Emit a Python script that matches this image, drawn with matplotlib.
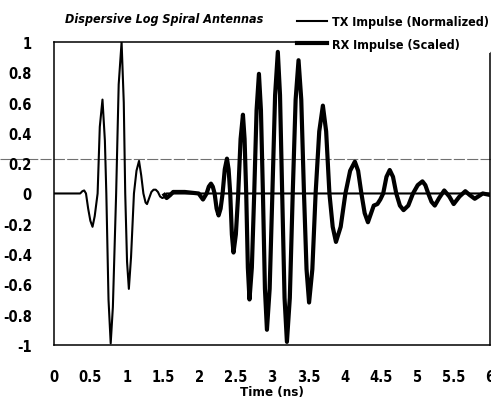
import matplotlib
matplotlib.use("Agg")
import matplotlib.pyplot as plt

# TX impulse (normalized)
tx_t = [0.0, 0.36, 0.39, 0.415, 0.44, 0.47, 0.50, 0.53, 0.56, 0.60, 0.63, 0.667,
        0.70, 0.72, 0.75, 0.78, 0.81, 0.855, 0.89, 0.93, 0.96, 0.98, 1.005, 1.03,
        1.06, 1.10, 1.135, 1.17, 1.20, 1.23, 1.26, 1.28, 1.31, 1.34, 1.37, 1.40,
        1.43, 1.46, 1.49, 1.52, 1.55, 6.0]
tx_v = [0.0, 0.0, 0.015, 0.02, 0.0, -0.1, -0.18, -0.22, -0.15, 0.0, 0.44, 0.62,
        0.35, 0.0, -0.7, -0.99, -0.75, 0.0, 0.72, 1.0, 0.6, 0.0, -0.45, -0.63,
        -0.42, 0.0, 0.15, 0.215, 0.12, 0.0, -0.06, -0.07, -0.03, 0.01, 0.025, 0.025,
        0.01, -0.02, -0.03, -0.025, 0.0, 0.0]

# RX impulse (scaled), one row per half cycle
rx_t = [1.52, 1.55, 1.60, 1.64, 1.80, 1.99, 2.05,
        2.10, 2.13, 2.16, 2.185,
        2.21, 2.2375, 2.265, 2.2925,
        2.32, 2.35, 2.38, 2.4025,
        2.425, 2.4475, 2.47, 2.5025,
        2.535, 2.5675, 2.60, 2.6225,
        2.645, 2.6675, 2.69, 2.7225,
        2.755, 2.7875, 2.82, 2.8475,
        2.875, 2.9025, 2.93, 2.9675,
        3.005, 3.0425, 3.08, 3.11,
        3.14, 3.1725, 3.205, 3.245,
        3.285, 3.325, 3.365, 3.4025,
        3.44, 3.475, 3.51, 3.555,
        3.60, 3.65, 3.70, 3.745,
        3.79, 3.835, 3.88, 3.945,
        4.01, 4.075, 4.14, 4.185,
        4.23, 4.275, 4.32, 4.40, 4.45, 4.49,
        4.53, 4.575, 4.62, 4.665,
        4.71, 4.76, 4.81, 4.875,
        4.94, 5.005, 5.07, 5.11,
        5.15, 5.195, 5.24, 5.30,
        5.37, 5.44, 5.50, 5.58,
        5.66, 5.72, 5.79, 5.90, 6.0]
rx_v = [-0.01, -0.03, -0.01, 0.01, 0.01, 0.0, -0.04,
        0.0, 0.045, 0.065, 0.045,
        0.0, -0.10, -0.145, -0.10,
        0.0, 0.16, 0.23, 0.16,
        0.0, -0.27, -0.39, -0.27,
        0.0, 0.36, 0.52, 0.36,
        0.0, -0.49, -0.70, -0.49,
        0.0, 0.55, 0.79, 0.55,
        0.0, -0.63, -0.90, -0.63,
        0.0, 0.65, 0.935, 0.65,
        0.0, -0.69, -0.98, -0.69,
        0.0, 0.62, 0.88, 0.62,
        0.0, -0.50, -0.72, -0.50,
        0.0, 0.41, 0.58, 0.41,
        0.0, -0.22, -0.32, -0.22,
        0.0, 0.15, 0.21, 0.15,
        0.0, -0.13, -0.19, -0.08, -0.07, -0.04,
        0.0, 0.11, 0.155, 0.11,
        0.0, -0.08, -0.11, -0.08,
        0.0, 0.055, 0.08, 0.055,
        0.0, -0.055, -0.08, -0.03,
        0.02, -0.02, -0.07, -0.02,
        0.015, -0.01, -0.035, 0.0, -0.01]

x_ticks = [0, 0.5, 1, 1.5, 2, 2.5, 3, 3.5, 4, 4.5, 5, 5.5, 6]
x_labels = ["0", "0.5", "1", "1.5", "2", "2.5", "3", "3.5", "4", "4.5", "5", "5.5", "6"]
y_ticks = [1, 0.8, 0.6, 0.4, 0.2, 0, -0.2, -0.4, -0.6, -0.8, -1]
y_labels = ["1", "0.8", "0.6", "0.4", "0.2", "0", "-0.2", "-0.4", "-0.6", "-0.8", "-1"]

plt.rcParams["font.family"] = ["DejaVu Sans"]
plt.rcParams["font.stretch"] = "condensed"

fig = plt.figure(figsize=(4.91, 4.06), dpi=100)
ax = fig.add_axes([0.110, 0.148, 0.888, 0.746])

ax.plot(tx_t, tx_v, color="black", lw=1.5, label="TX Impulse (Normalized)", zorder=3)
ax.plot(rx_t, rx_v, color="black", lw=3.0, label="RX Impulse (Scaled)",
        solid_joinstyle="round", zorder=2)

# faint scanner streak across the page
ax.axhline(0.228, xmin=-0.125, xmax=1.01, color="#707070", lw=0.8,
           ls=(0, (10, 2)), clip_on=False, zorder=1)

ax.set_xlim(0, 6)
ax.set_ylim(-1, 1)
ax.set_xticks(x_ticks)
ax.set_xticklabels(x_labels, fontsize=10.5, fontweight="bold")
ax.set_yticks(y_ticks)
ax.set_yticklabels(y_labels, fontsize=10.5, fontweight="bold")
ax.tick_params(axis="both", length=0)
ax.tick_params(axis="x", pad=17)
ax.tick_params(axis="y", pad=16)
for s in ax.spines.values():
    s.set_linewidth(1.1)

ax.set_xlabel("Time (ns)", fontsize=9.5, fontweight="bold", labelpad=1)
fig.text(0.132, 0.953, "Dispersive Log Spiral Antennas", fontsize=9,
         fontstyle="italic", fontweight="bold", va="center", ha="left")

leg = ax.legend(loc="upper right", bbox_to_anchor=(1.0, 0.966),
                bbox_transform=fig.transFigure, fontsize=9, frameon=True,
                handlelength=2.4, handletextpad=0.35, labelspacing=0.75,
                borderpad=0.2, borderaxespad=0.0)
leg.get_frame().set_facecolor("white")
leg.get_frame().set_edgecolor("none")
leg.get_frame().set_alpha(1.0)
leg.set_zorder(5)
for t in leg.get_texts():
    t.set_fontweight("bold")

fig.savefig("out.png", dpi=100)
